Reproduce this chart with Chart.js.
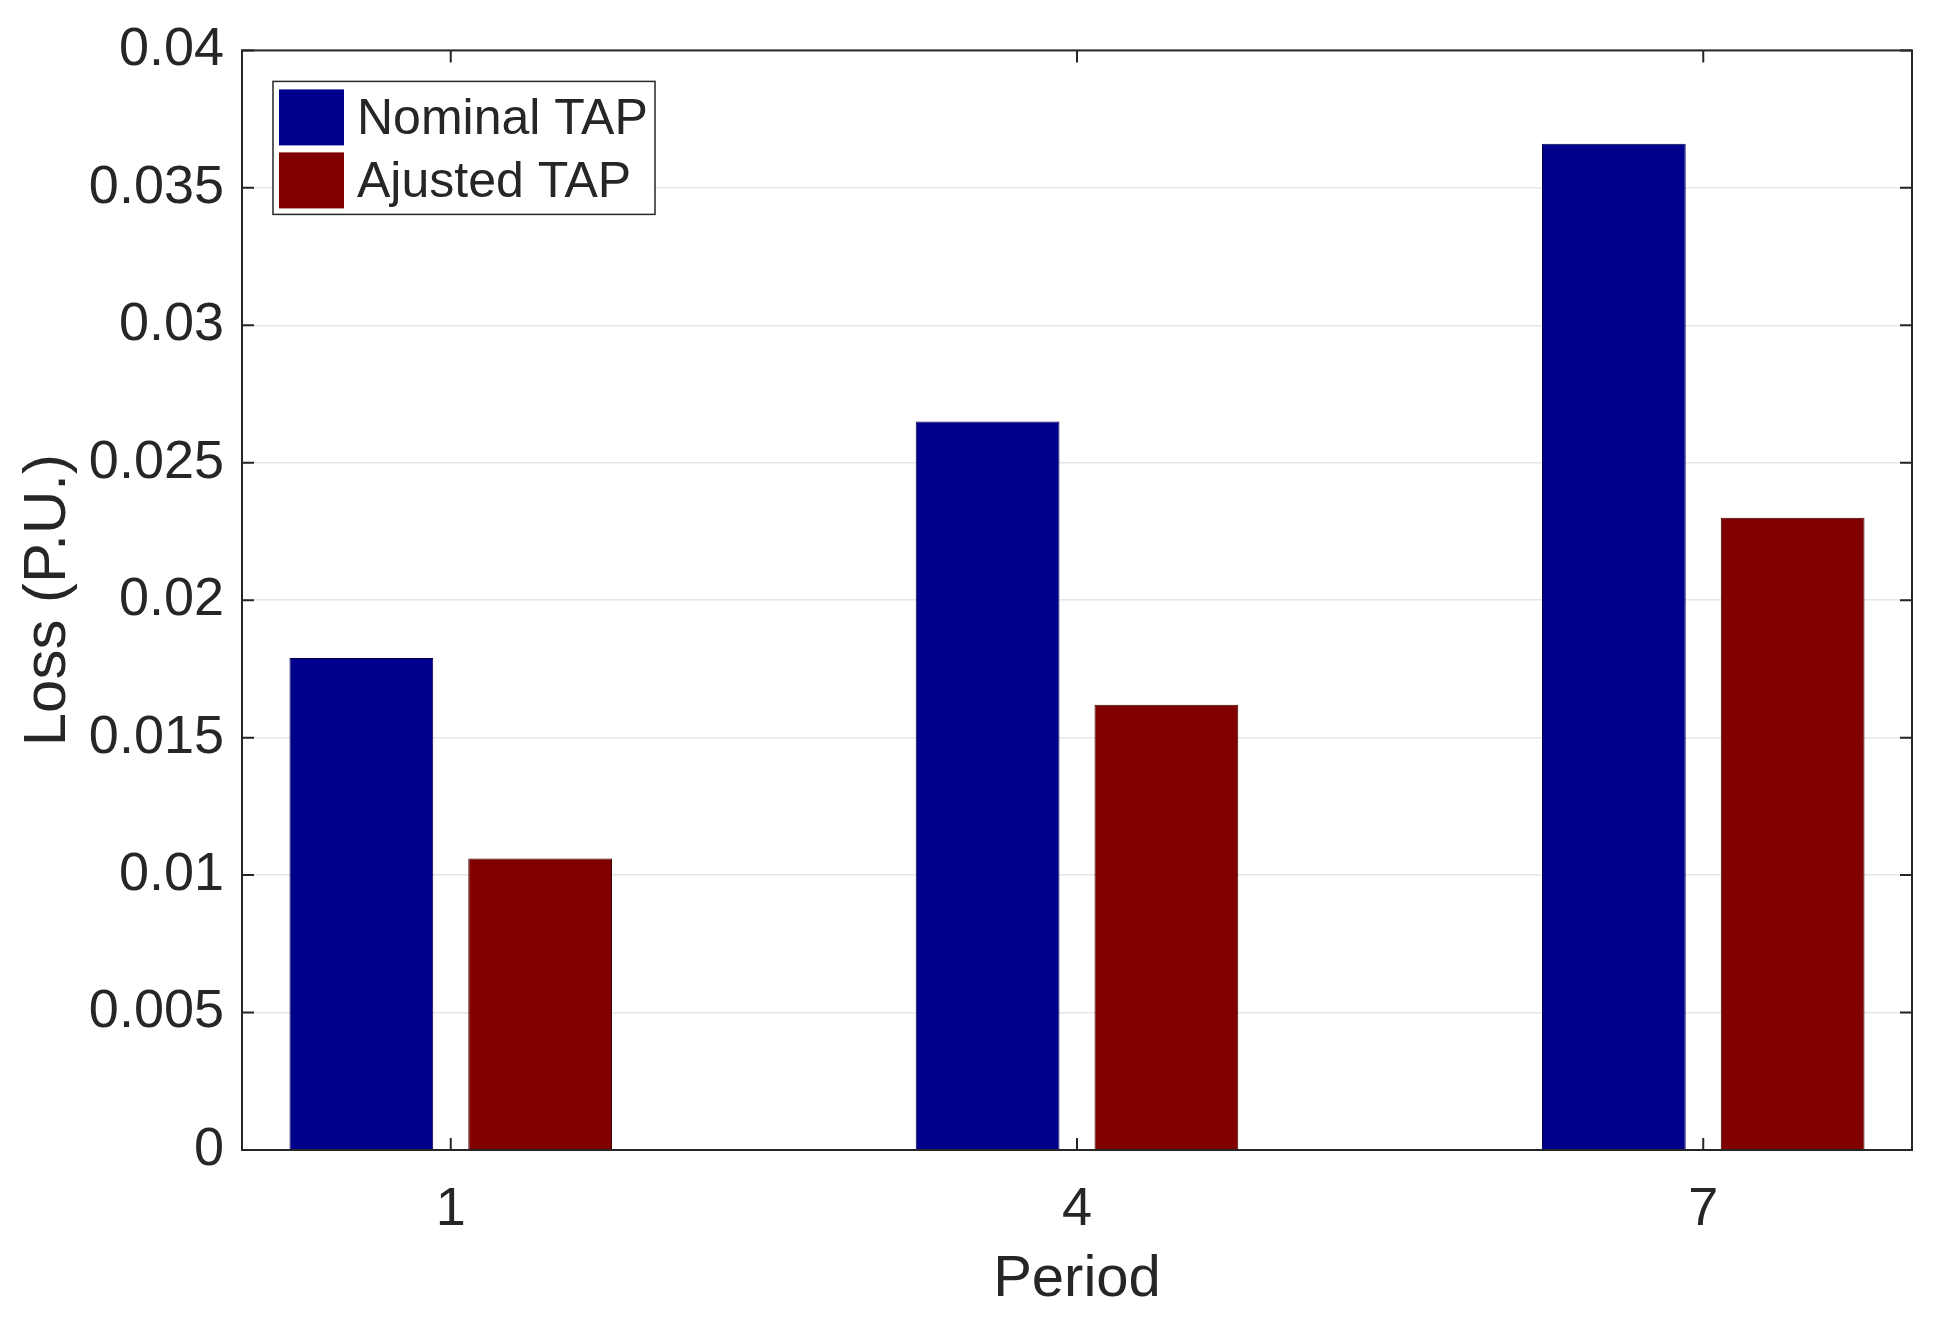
<!DOCTYPE html>
<html>
<head>
<meta charset="utf-8">
<script src="https://cdn.jsdelivr.net/npm/chart.js@4.4.1/dist/chart.umd.min.js"></script>
<style>
html, body { margin: 0; padding: 0; background: #fff; }
</style>
</head>
<body>
<canvas id="lossChart" width="1959" height="1335"></canvas>
<script>
const periods = [1, 4, 7];
const nominalTap = [0.0179, 0.0265, 0.0366];
const adjustedTap = [0.0106, 0.0162, 0.0230];
const yTicks = [0, 0.005, 0.01, 0.015, 0.02, 0.025, 0.03, 0.035, 0.04];
const seriesNames = ['Nominal TAP', 'Ajusted TAP'];

const textColor = '#262626';
Chart.defaults.font.family = '"Liberation Sans", Arial, sans-serif';
Chart.defaults.color = textColor;

// box round the axes, inward tick marks and the legend inside the plot (matlab look)
const matlabFrame = {
    id: 'matlabFrame',
    afterDatasetsDraw(chart) {
        const { ctx, chartArea: a, scales: { x, y } } = chart;
        const tl = 12;
        ctx.save();
        ctx.strokeStyle = textColor;
        ctx.lineWidth = 2;
        ctx.beginPath();
        yTicks.forEach(v => {
            const py = y.getPixelForValue(v);
            ctx.moveTo(a.left, py);
            ctx.lineTo(a.left + tl, py);
            ctx.moveTo(a.right, py);
            ctx.lineTo(a.right - tl, py);
        });
        periods.forEach(v => {
            const px = x.getPixelForValue(v);
            ctx.moveTo(px, a.bottom);
            ctx.lineTo(px, a.bottom - tl);
            ctx.moveTo(px, a.top);
            ctx.lineTo(px, a.top + tl);
        });
        ctx.stroke();
        ctx.strokeRect(a.left, a.top, a.right - a.left, a.bottom - a.top);

        // legend
        const bx = a.left + 31, by = a.top + 31, bw = 382, bh = 133;
        ctx.fillStyle = '#ffffff';
        ctx.fillRect(bx, by, bw, bh);
        ctx.lineWidth = 1.5;
        ctx.strokeRect(bx, by, bw, bh);
        ctx.font = '50px "Liberation Sans", Arial, sans-serif';
        ctx.textBaseline = 'middle';
        ctx.textAlign = 'left';
        chart.data.datasets.forEach((ds, i) => {
            const sy = by + 8 + i * 63;
            ctx.fillStyle = ds.backgroundColor;
            ctx.fillRect(bx + 6, sy, 65, 56);
            ctx.fillStyle = textColor;
            ctx.fillText(ds.label, bx + 84, sy + 31);
        });
        ctx.restore();
    }
};

new Chart(document.getElementById('lossChart'), {
    type: 'bar',
    data: {
        datasets: [{
            label: seriesNames[0],
            data: periods.map((p, i) => ({ x: p, y: nominalTap[i] })),
            backgroundColor: '#00008c',
            borderColor: '#00004a',
            borderWidth: 1,
            categoryPercentage: 0.571,
            barPercentage: 0.804,
        }, {
            label: seriesNames[1],
            data: periods.map((p, i) => ({ x: p, y: adjustedTap[i] })),
            backgroundColor: '#800000',
            borderColor: '#3d0000',
            borderWidth: 1,
            categoryPercentage: 0.571,
            barPercentage: 0.804,
        }]
    },
    options: {
        responsive: false,
        animation: false,
        layout: {
            padding: { top: 50, right: 47, bottom: 0, left: 0 }
        },
        plugins: {
            legend: false,
            tooltip: {
                enabled: false
            }
        },
        scales: {
            x: {
                type: 'linear',
                min: 0,
                max: 8,
                offset: false,
                afterBuildTicks: s => { s.ticks = periods.map(v => ({ value: v })); },
                afterFit: s => { s.height = 185; },
                grid: { display: false, drawTicks: false },
                border: { display: false },
                ticks: { padding: 28, font: { size: 54 }, color: textColor },
                title: {
                    display: true,
                    text: 'Period',
                    font: { size: 58 },
                    color: textColor,
                    padding: { top: 0, bottom: 20 }
                }
            },
            y: {
                min: 0,
                max: 0.04,
                afterBuildTicks: s => { s.ticks = yTicks.map(v => ({ value: v })); },
                afterFit: s => { s.width = 242; },
                grid: { color: '#e6e6e6', lineWidth: 1.5, drawTicks: false },
                border: { display: false },
                ticks: {
                    padding: 18,
                    font: { size: 54 },
                    color: textColor,
                    callback: v => String(+v.toFixed(3))
                },
                title: {
                    display: true,
                    text: 'Loss (P.U.)',
                    font: { size: 60 },
                    color: textColor,
                    padding: { top: 12, bottom: 0 }
                }
            }
        }
    },
    plugins: [matlabFrame]
});
</script>
</body>
</html>
